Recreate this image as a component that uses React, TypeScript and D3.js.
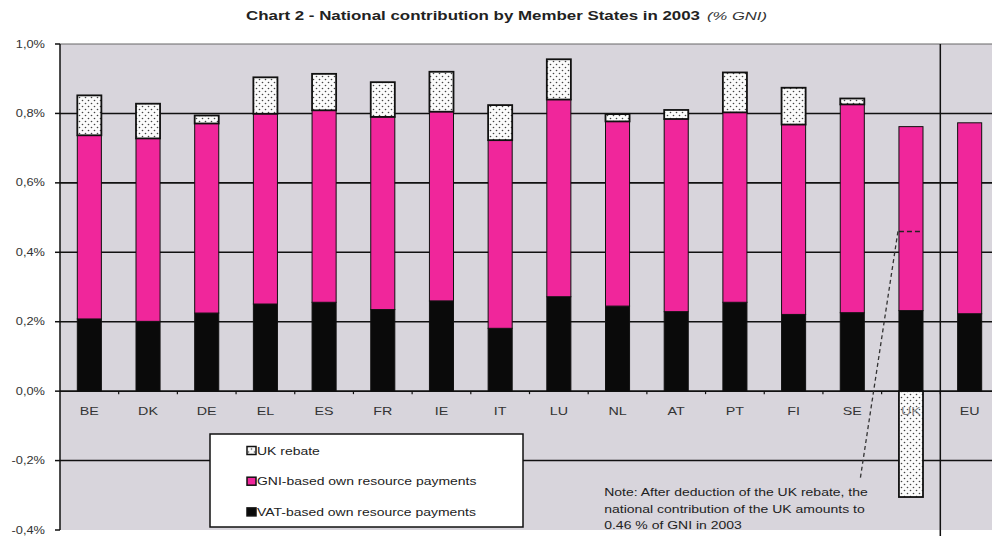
import React from "react";
import * as d3 from "d3";

const categories = ["BE","DK","DE","EL","ES","FR","IE","IT","LU","NL","AT","PT","FI","SE","UK","EU"];
const vatPayments = [0.208,0.201,0.225,0.251,0.256,0.235,0.26,0.181,0.272,0.245,0.229,0.256,0.221,0.226,0.232,0.223];
const gniPayments = [0.529,0.527,0.546,0.548,0.553,0.555,0.545,0.542,0.568,0.532,0.555,0.547,0.547,0.600,0.530,0.550];
const ukRebate = [0.115,0.100,0.023,0.105,0.105,0.100,0.115,0.101,0.116,0.021,0.026,0.115,0.106,0.017,-0.305,0];
const yTicks = [-0.4,-0.2,0,0.2,0.4,0.6,0.8,1.0];
const ukNetContribution = 0.46;
const legendLabels = ["UK rebate", "GNI-based own resource payments", "VAT-based own resource payments"];
const noteLines = [
  "Note: After deduction of the UK rebate, the",
  "national contribution of the UK amounts to",
  "0.46 % of GNI in 2003",
];

const W = 992, H = 536;
const left = 60, top = 44, bottom = 530, plotRight = 992;
const PINK = "#f0269b";
const BG = "#d8d5dc";
const FONT = "Liberation Sans, Arial, sans-serif";

function SText({ x, y, sx, anchor = "start", size, children, ...rest }: any) {
  return (
    <text transform={`translate(${x},${y}) scale(${sx},1)`} textAnchor={anchor} fontSize={size} {...rest}>
      {children}
    </text>
  );
}

export default function App() {
  const x = d3.scaleBand<string>().domain(categories).range([left, 999]).paddingInner(0.59).paddingOuter(0.295);
  const y = d3.scaleLinear().domain([-0.4, 1.0]).range([bottom, top]);
  const rows = categories.map((c, i) => ({ cat: c, vat: vatPayments[i], gni: gniPayments[i], rebate: ukRebate[i] }));
  const stack = d3.stack<any>().keys(["vat","gni","rebate"]).offset(d3.stackOffsetDiverging);
  const series = stack(rows);
  const fills: Record<string,string> = { vat: "#0a0a0a", gni: PINK, rebate: "url(#dots)" };
  const legendFills = ["url(#dots)", PINK, "#0a0a0a"];
  const bw = x.bandwidth();
  const fmt = (v: number) => (v < 0 ? "-" : "") + Math.abs(v).toFixed(1).replace(".", ",") + "%";
  const sepX = (x("UK")! + bw + x("EU")!) / 2;
  const ukX = x("UK")!;
  const noteX = x("AT")! - 60;
  const noteY = y(-0.2) + 35.5;
  const lineEndX = x("SE")! + bw / 2 + 8;
  const lineEndY = y(-0.2) + 18;

  return (
    <svg width={W} height={H} style={{ position: "absolute", left: 0, top: 0, background: "#fff" }} fontFamily={FONT}>
      <defs>
        <pattern id="dots" width="6" height="6" patternUnits="userSpaceOnUse">
          <rect width="6" height="6" fill="#fbfbfb" />
          <circle cx="1.5" cy="1.5" r="0.8" fill="#444" />
          <circle cx="4.5" cy="4.5" r="0.8" fill="#444" />
        </pattern>
      </defs>
      <text x={246} y={20} fontSize={13} fontWeight="bold" fill="#222" textLength={454} lengthAdjust="spacingAndGlyphs">
        Chart 2 - National contribution by Member States in 2003
      </text>
      <text x={707} y={20} fontSize={11} fontStyle="italic" fill="#333" textLength={60} lengthAdjust="spacingAndGlyphs">(% GNI)</text>
      <rect x={left} y={top} width={plotRight - left} height={bottom - top} fill={BG} />
      <line x1={left} x2={plotRight} y1={top} y2={top} stroke="#666" strokeWidth={1} />
      {yTicks.filter(t => t > -0.4 && t < 1.0).map(t => (
        <line key={t} x1={left} x2={plotRight} y1={y(t)} y2={y(t)} stroke="#111" strokeWidth={1.6} />
      ))}
      <line x1={sepX} x2={sepX} y1={top} y2={H} stroke="#111" strokeWidth={1.5} />
      <line x1={left} x2={left} y1={top} y2={bottom} stroke="#111" strokeWidth={1.5} />
      {yTicks.map(t => (
        <g key={t}>
          <line x1={left - 5} x2={left} y1={y(t)} y2={y(t)} stroke="#111" strokeWidth={1.5} />
          <SText x={45} y={y(t) + 3.5} sx={1.22} anchor="end" size={10.5} fill="#333">{fmt(t)}</SText>
        </g>
      ))}
      {categories.slice(0, -1).map(c => (
        <line key={c} x1={x(c)! + x.step() / 2 + bw / 2} x2={x(c)! + x.step() / 2 + bw / 2} y1={y(0)} y2={y(0) + 3} stroke="#111" strokeWidth={1.2} />
      ))}
      {categories.map(c => (
        <SText key={c} x={x(c)! + bw / 2} y={y(0) + 24} sx={1.3} anchor="middle" size={11} fill="#333">{c}</SText>
      ))}
      {series.map(s => (
        <g key={s.key}>
          {s.map((d: any, i: number) => {
            const y0 = y(Math.max(d[0], d[1]));
            const h = Math.abs(y(d[0]) - y(d[1]));
            if (h < 0.5) return null;
            return (
              <rect key={i} x={x(categories[i])!} y={y0} width={bw} height={h}
                fill={fills[s.key]} stroke="#111" strokeWidth={s.key === "rebate" ? 1.8 : 1} />
            );
          })}
        </g>
      ))}
      <SText x={ukX + bw / 2} y={y(0) + 24} sx={1.3} anchor="middle" size={11} fill="#333" opacity={0.6}>UK</SText>
      <line x1={ukX} x2={ukX + bw} y1={y(ukNetContribution)} y2={y(ukNetContribution)} stroke="#222" strokeWidth={1.5} strokeDasharray="5,3" />
      <line x1={ukX - 1} x2={lineEndX} y1={y(ukNetContribution)} y2={lineEndY} stroke="#333" strokeWidth={1.3} strokeDasharray="4,3" />
      <g>
        <rect x={210} y={434} width={313} height={93} fill="#fff" stroke="#111" strokeWidth={1.5} />
        {legendLabels.map((label, i) => (
          <g key={label} transform={`translate(247,${450.5 + i * 30.7})`}>
            <rect x={0} y={-4} width={9} height={8} fill={legendFills[i]} stroke="#111" strokeWidth={1.5} />
            <SText x={10} y={4} sx={1.33} size={10.5} fill="#222">{label}</SText>
          </g>
        ))}
      </g>
      {noteLines.map((line, i) => (
        <SText key={i} x={noteX} y={noteY + i * 16.5} sx={1.4} size={10} fill="#222">{line}</SText>
      ))}
    </svg>
  );
}
